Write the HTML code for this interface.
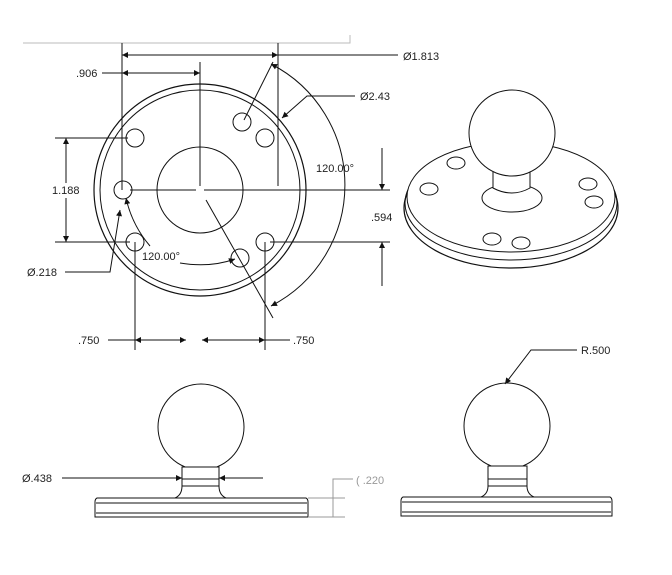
<!DOCTYPE html>
<html><head><meta charset="utf-8"><style>
html,body{margin:0;padding:0;background:#fff;}
svg{display:block;}
text{font-family:"Liberation Sans",sans-serif;font-size:11px;fill:#222;}
</style></head><body>
<svg width="672" height="575" viewBox="0 0 672 575" xmlns="http://www.w3.org/2000/svg">
<defs>
<marker id="a" viewBox="0 0 10 10" refX="10" refY="5" markerWidth="9" markerHeight="6" orient="auto-start-reverse" markerUnits="userSpaceOnUse"><path d="M0,0 L10,5 L0,10 z" fill="#111"/></marker>
</defs>
<g stroke="#111" fill="none" stroke-width="1">
<path d="M23,43 H350 V35" stroke="#bbb"/>
<line x1="122" y1="43" x2="122" y2="190"/>
<line x1="278" y1="43" x2="278" y2="186"/>
<line x1="122" y1="55" x2="278" y2="55" marker-start="url(#a)" marker-end="url(#a)"/>
<line x1="278" y1="55" x2="398" y2="55"/>
<line x1="102" y1="73" x2="122" y2="73"/>
<line x1="122" y1="73" x2="200" y2="73" marker-start="url(#a)" marker-end="url(#a)"/>
<line x1="200" y1="62" x2="200" y2="186"/>
<circle cx="200" cy="190" r="106" stroke-width="1.2"/>
<circle cx="200" cy="190" r="100"/>
<circle cx="200" cy="190" r="43"/>
<circle cx="135" cy="138" r="9"/><circle cx="242" cy="122" r="9"/><circle cx="265" cy="138" r="9"/>
<circle cx="123" cy="190" r="9"/><circle cx="135" cy="242" r="9"/><circle cx="265" cy="242" r="9"/><circle cx="240" cy="258" r="9"/>
<line x1="130" y1="190" x2="196" y2="190"/><line x1="204" y1="190" x2="390" y2="190"/>
<line x1="55" y1="138" x2="128" y2="138"/><line x1="55" y1="242" x2="130" y2="242"/>
<line x1="66" y1="183" x2="66" y2="138" marker-end="url(#a)"/>
<line x1="66" y1="198" x2="66" y2="242" marker-end="url(#a)"/>
<line x1="270" y1="242" x2="390" y2="242"/>
<line x1="382" y1="148" x2="382" y2="190" marker-end="url(#a)"/>
<line x1="382" y1="286" x2="382" y2="242" marker-end="url(#a)"/>
<path d="M355,96 H307 L282,118" marker-end="url(#a)"/>
<line x1="244" y1="120" x2="273" y2="62"/>
<line x1="206" y1="200" x2="273" y2="318"/>
<path d="M271,64 A136,136 0 0 1 271,306" marker-start="url(#a)" marker-end="url(#a)"/>
<path d="M180,263 Q210,268 235,259" marker-end="url(#a)"/>
<path d="M150,246 Q132,225 126,198" marker-end="url(#a)"/>
<path d="M65,272 H110 L120,210" marker-end="url(#a)"/>
<line x1="135" y1="242" x2="135" y2="350"/><line x1="265" y1="242" x2="265" y2="350"/>
<line x1="108" y1="340" x2="135" y2="340"/>
<line x1="135" y1="340" x2="186" y2="340" marker-start="url(#a)" marker-end="url(#a)"/>
<line x1="202" y1="340" x2="265" y2="340" marker-start="url(#a)" marker-end="url(#a)"/>
<line x1="265" y1="340" x2="290" y2="340"/>
<!-- iso view -->
<ellipse cx="511" cy="208" rx="107" ry="60" stroke-width="1.2"/>
<ellipse cx="511" cy="203" rx="106" ry="57"/>
<ellipse cx="511" cy="197" rx="104" ry="55" fill="#fff"/>
<ellipse cx="456" cy="163" rx="9" ry="6"/><ellipse cx="429" cy="189" rx="9" ry="6"/>
<ellipse cx="588" cy="184" rx="9" ry="6"/><ellipse cx="594" cy="202" rx="9" ry="6"/>
<ellipse cx="492" cy="239" rx="9" ry="6"/><ellipse cx="521" cy="243" rx="9" ry="6"/>
<ellipse cx="512" cy="198" rx="30" ry="14"/>
<path d="M493,170 V188 Q512,198 530,188 V170" fill="#fff"/>
<circle cx="512" cy="133" r="43" fill="#fff"/>
<!-- left side view -->
<circle cx="201" cy="427" r="43" fill="#fff"/>
<rect x="182" y="467" width="37" height="19" fill="#fff"/>
<line x1="182" y1="479" x2="219" y2="479"/>
<path d="M182,486 Q182,495 175,498 M219,486 Q219,495 226,498"/>
<path d="M97,498 H306 Q308,499 308,502 V517 H95 V502 Q95,499 97,498 Z"/>
<line x1="96" y1="503" x2="307" y2="503"/><line x1="96" y1="513" x2="307" y2="513"/>
<line x1="62" y1="478" x2="182" y2="478" marker-end="url(#a)"/>
<line x1="263" y1="478" x2="219" y2="478" marker-end="url(#a)"/>
<g stroke="#999"><line x1="308" y1="498" x2="345" y2="498"/><line x1="308" y1="517" x2="345" y2="517"/>
<path d="M353,479 H333 V517"/></g>
<!-- right side view -->
<circle cx="507" cy="426" r="43" fill="#fff"/>
<rect x="488" y="466" width="39" height="20" fill="#fff"/>
<line x1="488" y1="479" x2="527" y2="479"/>
<path d="M488,486 Q488,494 481,497 M527,486 Q527,494 534,497"/>
<path d="M403,497 H610 Q612,498 612,501 V516 H401 V501 Q401,498 403,497 Z"/>
<line x1="402" y1="502" x2="611" y2="502"/><line x1="402" y1="512" x2="611" y2="512"/>
<path d="M577,350 H531 L505,384" marker-end="url(#a)"/>
</g>
<g>
<text x="403" y="60">Ø1.813</text>
<text x="76" y="77">.906</text>
<text x="360" y="100">Ø2.43</text>
<text x="52" y="194">1.188</text>
<text x="316" y="172">120.00°</text>
<text x="371" y="221">.594</text>
<text x="142" y="260">120.00°</text>
<text x="27" y="276">Ø.218</text>
<text x="78" y="344">.750</text>
<text x="293" y="344">.750</text>
<text x="581" y="354">R.500</text>
<text x="22" y="482">Ø.438</text>
<text x="356" y="484" style="fill:#999">( .220</text>
</g>
</svg>
</body></html>
